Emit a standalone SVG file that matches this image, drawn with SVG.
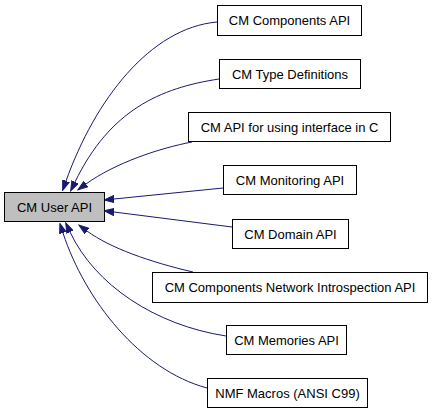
<svg xmlns="http://www.w3.org/2000/svg" width="432" height="413" viewBox="0 0 432 413">
<style>
.node rect{fill:#ffffff;stroke:#000000;stroke-width:1}
#n0 rect{fill:#bfbfbf}
.node text{font-family:"Liberation Sans",Arial,Helvetica,sans-serif;font-size:13px;fill:#000000;text-anchor:middle}
.edge{fill:none;stroke:#191970;stroke-width:1;marker-end:url(#arr)}
</style>
<defs>
<marker id="arr" markerUnits="userSpaceOnUse" markerWidth="11" markerHeight="8" refX="0" refY="3.5" orient="auto" viewBox="0 0 11 7">
<path d="M0,0 L10,3.5 L0,7 z" fill="#191970" stroke="#191970"/>
</marker>
</defs>
<rect width="432" height="413" fill="#ffffff"/>
<g id="edges">
<path class="edge" d="M217,22 C150,28 95,100 66,181"/>
<path class="edge" d="M219,79 C160,88 110,110 75,182"/>
<path class="edge" d="M192,142 C160,148 115,163 86,184"/>
<path class="edge" d="M223,188 L114,199"/>
<path class="edge" d="M232,227 L114,212"/>
<path class="edge" d="M193,272 C150,262 110,248 87,231"/>
<path class="edge" d="M226,336 C155,325 95,285 70,232"/>
<path class="edge" d="M207,388 C140,370 85,300 63,233"/>
</g>
<g id="n0" class="node"><rect x="4.5" y="192.5" width="100" height="29"/><text x="54.5" y="211.5">CM User API</text></g>
<g id="n1" class="node"><rect x="217.5" y="5.5" width="144" height="30"/><text x="289.5" y="25">CM Components API</text></g>
<g id="n2" class="node"><rect x="219.5" y="59.5" width="141" height="29"/><text x="290" y="78.5">CM Type Definitions</text></g>
<g id="n3" class="node"><rect x="188.5" y="112.5" width="202" height="29"/><text x="289.5" y="131.5">CM API for using interface in C</text></g>
<g id="n4" class="node"><rect x="223.5" y="165.5" width="133" height="29"/><text x="290" y="184.5">CM Monitoring API</text></g>
<g id="n5" class="node"><rect x="232.5" y="219.5" width="116" height="29"/><text x="290.5" y="238.5">CM Domain API</text></g>
<g id="n6" class="node"><rect x="152.5" y="272.5" width="275" height="30"/><text x="290" y="292">CM Components Network Introspection API</text></g>
<g id="n7" class="node"><rect x="226.5" y="325.5" width="120" height="29"/><text x="286.5" y="344.5">CM Memories API</text></g>
<g id="n8" class="node"><rect x="207.5" y="378.5" width="160" height="29"/><text x="287.5" y="397.5">NMF Macros (ANSI C99)</text></g>
</svg>
